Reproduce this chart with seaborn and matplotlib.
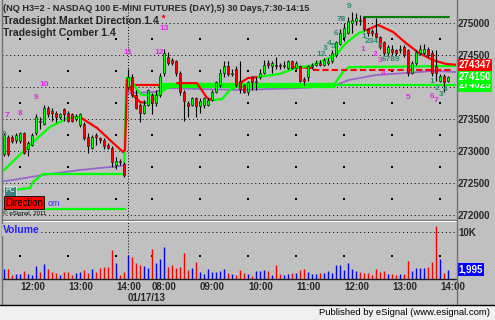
import numpy as np
import pandas as pd
import matplotlib
matplotlib.use("Agg")
import matplotlib.pyplot as plt
import matplotlib.transforms as mtransforms
from matplotlib.lines import Line2D
from matplotlib.patches import Rectangle
import seaborn as sns

# ---------------- data ----------------
day1_start, day1_bars = "2013-01-16 11:40", 31
day2_start, day2_bars = "2013-01-17 07:30", 81

opens = [272950,273225,273225,273175,273150,273275,273025,273100,273275,273475,
         273425,273675,273625,273600,273525,273650,273600,273575,273500,273400,
         273425,273225,273050,273250,273200,273175,273100,273050,272775,272850,
         272800,
         274000,274150,273875,273725,273600,273725,273875,273750,273875,274225,
         274475,274425,274400,274225,273925,273750,273725,273825,273700,273725,
         273725,273800,273925,274025,274225,274325,274200,274275,274100,274025,
         273925,274150,274075,274150,274225,274375,274325,274350,274350,274325,
         274300,274400,274300,274325,274125,274150,274325,274350,274375,274350,
         274375,274400,274500,274675,274775,274850,275000,275025,275050,275075,
         274900,274875,274850,274775,274700,274525,274600,274575,274575,274625,
         274575,274225,274375,274525,274525,274600,274525,274325,274100,274175,
         274100]
closes = [273250,272950,273150,273250,273275,272975,273125,273250,273525,273450,
          273675,273575,273600,273525,273575,273575,273475,273475,273550,273575,
          273200,273075,273225,273225,273175,273075,273050,272825,272850,272825,
          272625,
          274150,273875,273675,273600,273725,273950,273750,273875,274175,274525,
          274375,274375,274225,273925,273775,273700,273825,273700,273775,273825,
          273800,273925,274075,274225,274325,274200,274225,274025,273975,273925,
          274075,274075,274100,274225,274350,274350,274375,274325,274325,274350,
          274400,274300,274375,274100,274100,274325,274350,274375,274350,274425,
          274400,274525,274700,274850,274925,275025,275050,275075,275025,274900,
          274850,274850,274775,274625,274525,274625,274550,274525,274600,274500,
          274225,274375,274550,274600,274600,274500,274225,274225,274175,274075,
          274150]
highs = [273275,273250,273250,273275,273300,273300,273150,273275,273575,273525,
         273725,273700,273675,273625,273600,273675,273625,273600,273575,273600,
         273450,273275,273250,273275,273225,273200,273125,273075,272900,272875,
         272825,
         274275,274200,273950,273750,273800,273975,273900,273950,274225,274600,
         274550,274450,274425,274250,273950,273775,273850,273850,273825,273850,
         273825,273950,274100,274275,274400,274400,274275,274325,274400,274050,
         274100,274175,274150,274275,274425,274425,274400,274475,274375,274400,
         274425,274425,274400,274350,274150,274350,274375,274425,274425,274450,
         274450,274575,274725,274900,275000,275100,275175,275150,275125,275100,
         274925,274900,275075,274800,274725,274650,274650,274600,274650,274650,
         274600,274400,274575,274650,274675,274625,274575,274575,274200,274200,
         274175]
lows = [272925,272925,273125,273125,273125,272950,272925,273075,273250,273350,
        273400,273525,273475,273450,273500,273475,273450,273450,273475,273375,
        273175,272975,273025,273100,273125,273025,273025,272750,272725,272775,
        272600,
        273950,273850,273650,273450,273575,273700,273575,273700,273850,274175,
        274350,274350,274175,273875,273475,273525,273700,273525,273600,273675,
        273700,273775,273900,274000,274150,274175,274175,274000,273900,273900,
        273875,273950,273950,274125,274200,274300,274225,274275,274275,274300,
        274275,274275,274275,274075,274025,274100,274275,274325,274325,274325,
        274350,274375,274475,274650,274725,274825,274850,274975,274975,274875,
        274800,274800,274750,274600,274500,274500,274500,274500,274525,274475,
        274175,274200,274350,274500,274500,274475,274175,274100,274075,273925,
        274075]
volume = [2130,2130,850,1065,1065,1700,1065,850,2770,1490,
          3200,2130,1490,1280,850,1490,1490,850,1280,1490,
          1920,1280,2130,1490,2340,2560,2560,6180,3410,850,
          1490,
          5110,4690,3410,2980,2770,2340,6390,3410,4260,6820,
          2560,2980,2340,2560,5540,1920,2340,3620,1490,1065,
          2130,1490,1490,1700,2130,1280,1065,850,1920,1280,
          1065,640,1700,1700,1920,1700,850,2980,1065,850,
          1065,1280,1280,1920,2130,1490,1065,1065,1280,1280,
          1700,1280,2980,2980,1920,3410,2130,1700,1490,1280,
          1280,850,2130,1490,1700,1065,1065,850,1065,1065,
          3830,1700,2340,2340,2340,2560,3620,11290,4260,1280,
          1995]

# indicator lines: (bar index, price)
md_green_1 = ([0, 7, 11.5, 16, 19], [272700, 273125, 273375, 273515, 273530])
md_red_1 = ([19, 23.25, 26.5, 29.75, 30.25, 30.75, 32.25, 34, 35.75],
            [273530, 273360, 273170, 272985, 273015, 274110, 273875, 273765, 273750])
md_green_2 = ([35.75, 37.25, 39, 40.75, 42.75], [273750, 273795, 273905, 273985, 274015])
md_red_2 = ([43.25, 48.25, 50.75, 52], [274060, 274060, 273830, 273795])
md_green_3 = ([52, 54.5, 56.5, 59], [273795, 273810, 273955, 274030])
md_red_3 = ([59, 61, 63.5], [274060, 274140, 274155])
md_green_4 = ([63.5, 69, 71.5, 74, 76.5, 79, 83, 85.5, 88.75, 90.75],
              [274155, 274205, 274265, 274310, 274330, 274390, 274500, 274685, 274845, 274890])
md_red_4 = ([90.75, 93.5, 97.25, 100.5, 103.75, 107.25, 110.5, 113],
            [274890, 274970, 274860, 274685, 274530, 274420, 274360, 274347])
comber_green = ([0, 6.5, 7.25, 9.75, 30, 30.6, 31.5, 33.25, 34.5, 38.25, 39.5, 40.75, 43.5],
                [272375, 272420, 272515, 272640, 272640, 274140, 274140, 273955, 273875,
                 273875, 273955, 274000, 274030])
level_red = ([32, 39], [274030, 274030])
level_green_thick = ([39, 82.25], [274030, 274030])
level_green_thin = ([82.25, 113], [274025, 274025])
stop_red_solid = ([72.25, 77.25], [274310, 274296])
stop_red_dashed = ([77.25, 112], [274265, 274265])
green_step = ([82.25, 84.75, 86.25, 113], [274015, 274235, 274310, 274328])
purple_1 = ([0, 2.25, 9.75, 19, 29, 30.25], [272530, 272546, 272625, 272703, 272765, 272781])
purple_2 = ([31.25, 37.75, 40.75, 49, 59, 74, 82.25, 86.25, 93, 100.5, 107.25, 113],
            [273906, 273921, 273984, 273968, 273953, 273984, 274015, 274109, 274187,
             274218, 274250, 274234])
high_line = ([90, 90, 111.25], [275030, 275093, 275093])
prev_low_line = ([-0.5, 30.25], [272090, 272090])

magenta_labels = [(0.75, 273547, "7"), (4, 273593, "8"), (8, 273843, "9"), (10, 274031, "10"),
                  (31, 274546, "11"), (38.75, 274531, "12"), (40, 274906, "13"),
                  (89.75, 274578, "1"), (92.75, 274500, "2"), (94, 274406, "3"),
                  (94.75, 274218, "4"), (101, 273843, "5"), (107, 273859, "6"),
                  (107.9, 273781, "7")]
teal_labels = [(0, 273250, "9"), (79.25, 274515, "12"), (80.4, 274609, "3"), (81.3, 274687, "4"),
               (82.3, 274640, "5"), (83, 274843, "6"), (84.25, 275062, "78"), (86.25, 275250, "9"),
               (90, 274781, "1"), (92, 274703, "234"), (94, 274625, "5"), (96.75, 274430, "6789"),
               (107, 274078, "1"), (108.25, 273984, "2"), (109.2, 273875, "3"), (110.3, 273968, "4")]
last_values = [(274025, "274025", "#00FF00"), (274150, "274150", "#00FF00"), (274347, "274347", "#FF0000")]
price_label_levels = [272000, 272500, 273000, 273500, 274500, 275000]
grid_levels = [272000, 272500, 273000, 273500, 274000, 274500, 275000]
mid_levels = [272250, 272750, 273250, 273750, 274250, 274750]

title = "(NQ H3=2 - NASDAQ 100 E-MINI FUTURES (DAY),5) 30 Days,7:30-14:15"
study1 = "Tradesight Market Direction 1.4"
study2 = "Tradesight Comber 1.4"

# ---------------- style ----------------
BG = "#C0C0C0"
GREEN = "#00FF00"
RED = "#FF0000"
sns.set_style("white")
plt.rcParams['font.family'] = ['Liberation Sans', 'DejaVu Sans']

times = list(pd.date_range(day1_start, periods=day1_bars, freq="5min")) + \
        list(pd.date_range(day2_start, periods=day2_bars, freq="5min"))
idx = np.arange(len(times))
o = np.array(opens, float); c = np.array(closes, float)
h = np.maximum.reduce([np.array(highs, float), o, c])
l = np.minimum.reduce([np.array(lows, float), o, c])
up = c >= o
hour_ticks = [i for i, t in enumerate(times) if t.minute == 0]
day_start = day1_bars

W, H = 495, 320
fig = plt.figure(figsize=(W / 100, H / 100), dpi=100, facecolor=BG)
def fx(px): return px / W
def fy(py): return 1 - py / H

ax = fig.add_axes([fx(2), fy(220), fx(456) - fx(2), fy(1) - fy(220)])
axv = fig.add_axes([fx(2), fy(279), fx(456) - fx(2), fy(222) - fy(279)])
for a in (ax, axv):
    a.set_facecolor(BG)
    a.set_xlim(-0.5, 113)
    for s in a.spines.values():
        s.set_visible(False)

ax.set_ylim(271921.5, 275343.4)
axv.set_ylim(0, 12128)

# grid
for lv in grid_levels:
    ax.axhline(lv, color="black", lw=0.7, ls=(0, (1, 3)), zorder=1)
gx = [t for t in hour_ticks for _ in mid_levels]
gy = [m for _ in hour_ticks for m in mid_levels]
ax.scatter(gx, gy, s=0.7, marker="s", color="black", linewidths=0, zorder=1)
ax.axvline(day_start - 0.1, color="black", lw=0.7, ls=(0, (1, 2)), zorder=1)
axv.axvline(day_start - 0.1, color="black", lw=0.7, ls=(0, (1, 2)), zorder=1)
axv.axhline(10000, color="black", lw=0.7, ls=(0, (1, 3)), zorder=1)
axv.scatter(hour_ticks, [5000] * len(hour_ticks), s=0.7, marker="s", color="black",
            linewidths=0, zorder=1)

# indicator lines
def line(series, color, lw, z=2.5, dashes=None):
    sns.lineplot(x=series[0], y=series[1], ax=ax, color=color, lw=lw, estimator=None,
                 sort=False, legend=False, zorder=z)
    if dashes:
        ax.lines[-1].set_dashes(dashes)

line(prev_low_line, GREEN, 1.6)
line(purple_1, "#9966CC", 1.3)
line(purple_2, "#9966CC", 1.3)
line(level_green_thick, GREEN, 3.8)
line(level_green_thin, GREEN, 1.6)
line(level_red, RED, 1.6)
line(comber_green, GREEN, 1.6)
line(green_step, GREEN, 1.6)
line(stop_red_solid, RED, 1.5)
line(stop_red_dashed, RED, 1.5, dashes=[3, 1.5])
for seg, col in [(md_green_1, GREEN), (md_red_1, RED), (md_green_2, GREEN), (md_red_2, RED),
                 (md_green_3, GREEN), (md_red_3, RED), (md_green_4, GREEN), (md_red_4, RED)]:
    line(seg, col, 1.6)
line(high_line, "#008000", 1.5)

# candles
ax.vlines(idx, l, h, color="black", lw=0.8, zorder=3)
bottom = np.minimum(o, c)
height = np.maximum(np.abs(c - o), 14)
ax.bar(idx, height, bottom=bottom, width=0.72, color=np.where(up, GREEN, RED),
       edgecolor="#202020", linewidth=0.5, zorder=4)

# volume
axv.vlines(idx, 0, volume, colors=np.where(up, "#0000FF", RED), lw=1.0, zorder=3)

# study labels
for x, y, s in magenta_labels:
    ax.text(x, y, s, color="#F020F0", fontsize=6, fontweight="bold", ha="center", va="center", zorder=6)
for x, y, s in teal_labels:
    ax.text(x, y, s, color="#2E8B6E", fontsize=6, fontweight="bold", ha="center", va="center", zorder=6)
ax.scatter([39.75], [275109], marker="*", s=14, color=RED, linewidths=0, zorder=6)

# axes ticks
ax.set_xticks([])
ax.yaxis.tick_right()
ax.set_yticks(price_label_levels)
ax.set_yticklabels([str(v) for v in price_label_levels])
ax.tick_params(axis="y", length=0, pad=1.5, labelsize=7)
for lb in ax.get_yticklabels():
    lb.set_fontweight("bold")

axv.yaxis.tick_right()
axv.set_yticks([10000])
axv.set_yticklabels(["10K"])
axv.tick_params(axis="y", length=0, pad=1.5, labelsize=7)
axv.set_xticks(hour_ticks)
axv.set_xticklabels([times[i].strftime("%H:%M") for i in hour_ticks])
axv.tick_params(axis="x", length=0, pad=2.5, labelsize=7)
for lb in axv.get_xticklabels() + axv.get_yticklabels():
    lb.set_fontweight("bold")
for lb in axv.get_xticklabels():
    lb.set_ha("left")
trv = mtransforms.blended_transform_factory(axv.transData, axv.transAxes)
axv.text(day_start, -0.33, times[day_start].strftime("%m/%d/%y"), transform=trv,
         ha="left", va="center", fontsize=7, fontweight="bold")

# last value boxes
tr = mtransforms.blended_transform_factory(ax.transAxes, ax.transData)
for z, (val, txt, col) in enumerate(last_values):
    ax.text(1.0 + 2.5 / 454, val, txt, transform=tr, ha="left", va="center", color="white",
            fontsize=7, fontweight="bold", zorder=7 + z, clip_on=False,
            bbox=dict(boxstyle="square,pad=0.12", fc=col, ec="none"))
trv2 = mtransforms.blended_transform_factory(axv.transAxes, axv.transData)
axv.text(1.0 + 2.5 / 454, volume[-1], f"{volume[-1]:,}", transform=trv2, ha="left", va="center",
         color="white", fontsize=7, fontweight="bold", zorder=7, clip_on=False,
         bbox=dict(boxstyle="square,pad=0.12", fc="#0000FF", ec="none"))

# header texts
fig.text(fx(3), fy(8.5), title, fontsize=6.6, fontweight="bold", va="center", ha="left")
fig.text(fx(3), fy(21), study1, fontsize=7.6, fontweight="bold", va="center", ha="left")
fig.text(fx(3), fy(33.5), study2, fontsize=7.6, fontweight="bold", va="center", ha="left")

# bottom-left widgets
fig.text(fx(5), fy(191), "PC", fontsize=5, color="white", va="center", ha="left",
         bbox=dict(boxstyle="square,pad=0.2", fc="#3F7F7F", ec="white", lw=0.5))
fig.text(fx(48), fy(204), "om", fontsize=6.5, color="#3030FF", va="center", ha="left")
fig.text(fx(5), fy(202.5), "Direction", fontsize=6.9, color="black", va="center", ha="left",
         bbox=dict(boxstyle="square,pad=0.15", fc=RED, ec="black", lw=0.6))
fig.text(fx(3), fy(213.5), "\u00a9 eSignal, 2011", fontsize=4.4, color="black", va="center", ha="left")

# volume title
fig.text(fx(3), fy(230), "Volume", fontsize=7.5, fontweight="bold", color="#2020FF", va="center",
         ha="left", bbox=dict(boxstyle="square,pad=0.1", fc=BG, ec="none"))

# frame lines
fig.add_artist(Line2D([fx(2), fx(456)], [fy(220.2), fy(220.2)], color="#707070", lw=1))
fig.add_artist(Line2D([fx(2), fx(456)], [fy(221.4), fy(221.4)], color="white", lw=0.8))
fig.add_artist(Line2D([fx(2), fx(456)], [fy(279), fy(279)], color="#202020", lw=1))
fig.add_artist(Line2D([fx(456.5), fx(456.5)], [fy(0), fy(304)], color="#707070", lw=1))
fig.add_artist(Line2D([fx(1.5), fx(1.5)], [fy(0), fy(304)], color="#707070", lw=1))
fig.add_artist(Rectangle((0, 0), 1, fy(305), transform=fig.transFigure, fc="#F0F0F0", ec="none"))
fig.add_artist(Line2D([0, 1], [fy(305), fy(305)], color="black", lw=1))
fig.text(fx(490), fy(312.5), "Published by eSignal (www.esignal.com)", fontsize=6.8,
         color="black", va="center", ha="right")

fig.savefig("out.png", dpi=100, facecolor=BG)
